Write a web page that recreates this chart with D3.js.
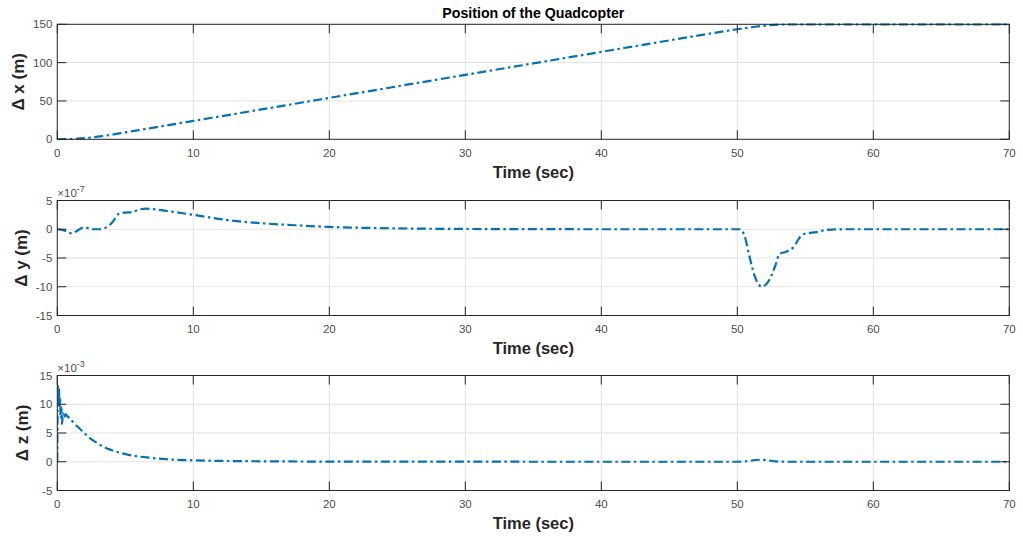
<!DOCTYPE html>
<html>
<head>
<meta charset="utf-8">
<script src="https://cdnjs.cloudflare.com/ajax/libs/d3/7.8.5/d3.min.js"></script>
<style>
  body { margin: 0; background: #fff; }
  svg text { font-family: "Liberation Sans", Arial, Helvetica, sans-serif; }
</style>
</head>
<body>
<div id="chart"></div>
<script>
// time axis ticks (sec)
var timeTicks = [0, 10, 20, 30, 40, 50, 60, 70];

// delta x (m)
var tX = [0, 1, 2, 3, 4, 5, 6, 7, 8, 9, 10, 15, 20, 25, 30, 35, 40, 45, 50, 51, 52, 53, 54, 55, 60, 70];
var dX = [0, 0.4, 1.5, 3.4, 6, 9, 12, 15, 18, 21, 24, 39, 54, 69, 84, 99, 114, 129, 143.5, 146, 148.2, 149.5, 150, 150, 150, 150];
var xTicks = [0, 50, 100, 150];

// delta y, in units of 1e-7 m
var tY = [0, 0.5, 1.05, 1.5, 1.9, 2.3, 2.7, 3.1, 3.5, 4.0, 4.6, 5.0, 5.5, 6.0, 6.5, 7.0, 8.0, 10, 12.5, 15, 17.5, 20, 22.5, 25, 30, 35, 40, 45, 50, 50.2, 50.55, 50.9, 51.3, 51.8, 52.25, 52.8, 53.1, 53.6, 54.1, 54.7, 55.1, 55.8, 56.6, 58, 60, 65, 70];
var dY = [0, -0.2, -0.7, -0.2, 0.3, 0.2, 0, 0, 0.2, 1.1, 2.8, 2.9, 3.0, 3.4, 3.6, 3.5, 3.2, 2.5, 1.6, 1.05, 0.7, 0.4, 0.25, 0.15, 0.05, 0.02, 0, 0, 0, 0, -1.3, -4.8, -8.3, -10, -9.2, -6.3, -4.3, -3.9, -3.2, -1.1, -0.7, -0.5, -0.1, 0, 0, 0, 0];
var yTicks = [-15, -10, -5, 0, 5];

// delta z, in units of 1e-3 m
var tZ = [0, 0.04, 0.08, 0.12, 0.16, 0.2, 0.25, 0.3, 0.35, 0.42, 0.5, 0.6, 0.75, 0.93, 1.4, 1.9, 2.4, 2.9, 3.4, 3.9, 4.7, 5.6, 6.8, 8, 10, 12, 15, 20, 30, 40, 50, 50.8, 51.3, 51.7, 52.2, 52.8, 53.5, 60, 70];
var dZ = [0, 13.3, 10.2, 12.9, 9.5, 11.2, 7.5, 9.4, 6.6, 8.4, 7.6, 8.3, 7.9, 7.5, 6.3, 5.2, 4.1, 3.3, 2.6, 2.1, 1.5, 1.05, 0.7, 0.45, 0.25, 0.15, 0.08, 0.03, 0.01, 0, 0, 0.1, 0.3, 0.35, 0.3, 0.05, 0, 0, 0];
var zTicks = [-5, 0, 5, 10, 15];

var w = 1023, h = 540;
var left = 57.3, right = 1009.3, panelH = 115;
var tickLen = 9;
var lineColor = "#0072BD", axisColor = "#262626", gridColor = "#e3e3e3";

var svg = d3.select("#chart").append("svg")
    .attr("width", w)
    .attr("height", h);

var xScale = d3.scaleLinear().domain([0, 70]).range([left, right]);

var panels = [
    { top: 24.3, t: tX, v: dX, ticks: xTicks, label: "\u0394 x (m)", labelX: 24, exp: null },
    { top: 200.5, t: tY, v: dY, ticks: yTicks, label: "\u0394 y (m)", labelX: 27, exp: "-7" },
    { top: 375.5, t: tZ, v: dZ, ticks: zTicks, label: "\u0394 z (m)", labelX: 28, exp: "-3" }
];

panels.forEach(function(p, k) {
    var bottom = p.top + panelH;
    var yScale = d3.scaleLinear()
        .domain([p.ticks[0], p.ticks[p.ticks.length - 1]])
        .range([bottom, p.top]);
    var g = svg.append("g");

    // grid
    g.selectAll("line.vgrid").data(timeTicks).enter().append("line")
        .attr("x1", function(d) { return xScale(d); })
        .attr("x2", function(d) { return xScale(d); })
        .attr("y1", p.top).attr("y2", bottom)
        .attr("stroke", gridColor).attr("stroke-width", 1);
    g.selectAll("line.hgrid").data(p.ticks).enter().append("line")
        .attr("x1", left).attr("x2", right)
        .attr("y1", function(d) { return yScale(d); })
        .attr("y2", function(d) { return yScale(d); })
        .attr("stroke", gridColor).attr("stroke-width", 1);

    // data line
    var clipId = "clip" + k;
    svg.append("clipPath").attr("id", clipId).append("rect")
        .attr("x", left).attr("y", p.top - 1).attr("width", right - left).attr("height", panelH + 2);
    var line = d3.line()
        .x(function(d, i) { return xScale(p.t[i]); })
        .y(function(d) { return yScale(d); })
        .curve(d3.curveMonotoneX);
    g.append("path")
        .datum(p.v)
        .attr("clip-path", "url(#" + clipId + ")")
        .attr("d", line)
        .attr("fill", "none")
        .attr("stroke", lineColor)
        .attr("stroke-width", 2.2)
        .attr("stroke-dasharray", "9,3.5,2.5,3.5");

    // box
    g.append("rect")
        .attr("x", left).attr("y", p.top)
        .attr("width", right - left).attr("height", panelH)
        .attr("fill", "none").attr("stroke", axisColor).attr("stroke-width", 1);

    // ticks (inside, all four sides)
    g.selectAll("line.xt").data(timeTicks).enter().append("line")
        .attr("x1", function(d) { return xScale(d); })
        .attr("x2", function(d) { return xScale(d); })
        .attr("y1", bottom).attr("y2", bottom - tickLen)
        .attr("stroke", axisColor);
    g.selectAll("line.xtt").data(timeTicks).enter().append("line")
        .attr("x1", function(d) { return xScale(d); })
        .attr("x2", function(d) { return xScale(d); })
        .attr("y1", p.top).attr("y2", p.top + tickLen)
        .attr("stroke", axisColor);
    g.selectAll("line.yt").data(p.ticks).enter().append("line")
        .attr("x1", left).attr("x2", left + tickLen)
        .attr("y1", function(d) { return yScale(d); })
        .attr("y2", function(d) { return yScale(d); })
        .attr("stroke", axisColor);
    g.selectAll("line.ytr").data(p.ticks).enter().append("line")
        .attr("x1", right).attr("x2", right - tickLen)
        .attr("y1", function(d) { return yScale(d); })
        .attr("y2", function(d) { return yScale(d); })
        .attr("stroke", axisColor);

    // tick labels
    g.selectAll("text.xl").data(timeTicks).enter().append("text")
        .attr("x", function(d) { return xScale(d); })
        .attr("y", bottom + 17.5)
        .attr("text-anchor", "middle")
        .style("font-size", "11.5px")
        .style("fill", "#4d4d4d")
        .text(function(d) { return d; });
    g.selectAll("text.yl").data(p.ticks).enter().append("text")
        .attr("x", left - 5)
        .attr("y", function(d) { return yScale(d); })
        .attr("dy", "0.36em")
        .attr("text-anchor", "end")
        .style("font-size", "11.5px")
        .style("fill", "#4d4d4d")
        .text(function(d) { return d; });

    // exponent
    if (p.exp) {
        var e = g.append("text")
            .attr("x", left)
            .attr("y", p.top - 3.3)
            .style("font-size", "11.5px")
            .style("fill", "#4d4d4d");
        e.append("tspan").text("\u00d710");
        e.append("tspan").attr("dy", -5).style("font-size", "9px").text(p.exp);
    }

    // axis labels
    g.append("text")
        .attr("x", (left + right) / 2)
        .attr("y", bottom + 38.5)
        .attr("text-anchor", "middle")
        .style("font-size", "16.5px")
        .style("font-weight", "bold")
        .style("fill", axisColor)
        .text("Time (sec)");
    g.append("text")
        .attr("transform", "translate(" + p.labelX + "," + (p.top + panelH / 2) + ") rotate(-90)")
        .attr("text-anchor", "middle")
        .style("font-size", "17px")
        .style("font-weight", "bold")
        .style("fill", axisColor)
        .text(p.label);
});

// title
svg.append("text")
    .attr("x", (left + right) / 2)
    .attr("y", 18)
    .attr("text-anchor", "middle")
    .style("font-size", "14.2px")
    .style("font-weight", "bold")
    .style("fill", "#000")
    .text("Position of the Quadcopter");
</script>
</body>
</html>
